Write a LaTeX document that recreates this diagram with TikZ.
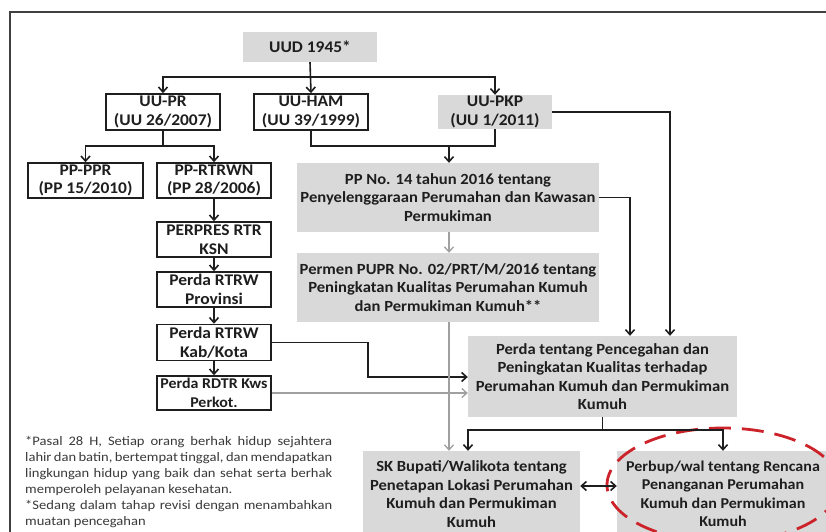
\documentclass[tikz,border=0pt]{standalone}
\usepackage{fontspec}
\setmainfont{Carlito}[FakeStretch=1.07]
\newfontfamily\notefont{Carlito}[FakeStretch=1.12]
\usetikzlibrary{arrows.meta,calc}
\definecolor{boxgray}{HTML}{D9D9D9}
\definecolor{ink}{HTML}{1E1E1E}
\definecolor{thinline}{HTML}{A0A0A0}
\definecolor{redd}{HTML}{CC2229}
\definecolor{notegray}{HTML}{3A3A3A}
\begin{document}
\begin{tikzpicture}[x=1pt,y=-1pt,
  every node/.style={inner sep=0pt, align=center, text=ink,
    font=\bfseries\fontsize{15.5}{18.5}\selectfont},
  small/.style={font=\bfseries\fontsize{16.3}{18.5}\selectfont},
  wbox/.style={draw=ink, line width=1.6pt, fill=white, small},
  gbox/.style={fill=boxgray},
  arr/.style={draw=ink, line width=1.6pt, -{Straight Barb[length=5pt,width=9pt,line width=1.6pt]}},
  ln/.style={draw=ink, line width=1.6pt},
  garr/.style={draw=thinline, line width=1.4pt, -{Straight Barb[length=5pt,width=9pt,line width=1.3pt]}},
  darr/.style={draw=ink, line width=1.6pt, {Straight Barb[length=5pt,width=9pt,line width=1.6pt]}-{Straight Barb[length=5pt,width=9pt,line width=1.6pt]}},
  note/.style={text=notegray, align=justify, font=\notefont\fontsize{13}{16}\selectfont, text width=307pt, anchor=north west}
]
\useasboundingbox (0,0) rectangle (826,531);
\clip (0,0) rectangle (826,531);
\fill[white] (0,0) rectangle (826,531);
% frame
\draw[line width=1.5pt, draw=ink!85] (10,560) -- (10,12) -- (840,12);

% nodes
\node[gbox, small, minimum width=134pt, minimum height=30pt] (uud) at (310,47) {UUD 1945*};
\node[wbox, minimum width=114pt, minimum height=36pt] (uupr) at (163,112) {UU-PR\\(UU 26/2007)};
\node[wbox, minimum width=114pt, minimum height=36pt] (uuham) at (311,112) {UU-HAM\\(UU 39/1999)};
\node[gbox, small, minimum width=114pt, minimum height=34pt] (uupkp) at (495,112) {UU-PKP\\(UU 1/2011)};
\node[wbox, minimum width=115pt, minimum height=35pt] (pppr) at (85.5,180.5) {PP-PPR\\(PP 15/2010)};
\node[wbox, minimum width=114pt, minimum height=35pt] (pprtrwn) at (214,180.5) {PP-RTRWN\\(PP 28/2006)};
\node[wbox, minimum width=114pt, minimum height=35pt] (perpres) at (214,239.5) {PERPRES RTR\\KSN};
\node[wbox, minimum width=114pt, minimum height=35pt] (rtrwprov) at (214,289.5) {Perda RTRW\\Provinsi};
\node[wbox, minimum width=114pt, minimum height=36pt] (rtrwkab) at (214,342.5) {Perda RTRW\\Kab/Kota};
\node[wbox, minimum width=114pt, minimum height=34pt, font=\bfseries\fontsize{14.9}{18.5}\selectfont] (rdtr) at (214,393) {Perda RDTR Kws\\Perkot.};
\node[gbox, minimum width=302pt, minimum height=69pt] (pp14) at (448,197.5) {PP No. 14 tahun 2016 tentang\\Penyelenggaraan Perumahan dan Kawasan\\Permukiman};
\node[gbox, minimum width=302pt, minimum height=69pt] (permen) at (448,287.5) {Permen PUPR No. 02/PRT/M/2016 tentang\\Peningkatan Kualitas Perumahan Kumuh\\dan Permukiman Kumuh**};
\node[gbox, minimum width=269pt, minimum height=81pt] (perda) at (602.5,376.5) {Perda tentang Pencegahan dan\\Peningkatan Kualitas terhadap\\Perumahan Kumuh dan Permukiman\\Kumuh};
\node[gbox, minimum width=217pt, minimum height=86pt] (sk) at (471.5,494) {SK Bupati/Walikota tentang\\Penetapan Lokasi Perumahan\\Kumuh dan Permukiman\\Kumuh};
\node[gbox, minimum width=212pt, minimum height=86pt, font=\bfseries\fontsize{15}{18.5}\selectfont] (perbup) at (723,494) {Perbup/wal tentang Rencana\\Penanganan Perumahan\\Kumuh dan Permukiman\\Kumuh};

% red dashed ellipse
\draw[redd, line width=2.8pt, dash pattern=on 22pt off 11pt] (723,485) ellipse [x radius=116pt, y radius=57pt];

% note
\node[note] (fn) at (25,436) {*Pasal 28 H, Setiap orang berhak hidup sejahtera\linebreak
lahir dan batin, bertempat tinggal, dan mendapatkan\linebreak
lingkungan hidup yang baik dan sehat serta berhak\linebreak
memperoleh pelayanan kesehatan.\\
**Sedang dalam tahap revisi dengan menambahkan\linebreak
muatan pencegahan};

% connectors
\coordinate (j1) at (310,77);
\draw[arr] (uud.south) -- (uuham.north);
\draw[arr] (j1) -| (uupr.north);
\draw[arr] (j1) -| (uupkp.north);

\coordinate (j2) at (163,146);
\draw[ln] (uupr.south) -- (j2);
\draw[arr] (j2) -| (pppr.north);
\draw[arr] (j2) -| (pprtrwn.north);

\coordinate (j3) at (449,146);
\draw[ln] (uuham.south) |- (uupkp.south |- j3) -- (uupkp.south);
\draw[arr] (j3) -- (j3 |- pp14.north);

\draw[arr] (uupkp.east) -| ([xshift=67.5pt]perda.north);
\draw[arr] (pp14.east) -| ([xshift=27.5pt]perda.north);

\draw[arr] (pprtrwn) -- (perpres);
\draw[arr] (perpres) -- (rtrwprov);
\draw[arr] (rtrwprov) -- (rtrwkab);
\draw[arr] (rtrwkab) -- (rdtr);

\coordinate (j4) at (368,377);
\draw[arr] (rtrwkab.east) -| (j4) -- (j4 -| perda.west);
\draw[garr] (rdtr.east) -- (rdtr.east -| perda.west);

\draw[garr] (pp14.south -| j3) -- (permen.north -| j3);
\draw[garr] (permen.south -| j3) -- (sk.north -| j3);

\coordinate (j5) at (602.5,430);
\draw[ln] (perda.south) -- (j5);
\draw[arr] (j5) -| ([xshift=-3.5pt]sk.north);
\draw[arr] (j5) -| (perbup.north);

\draw[darr] ([yshift=8pt]sk.east) -- ([yshift=8pt]perbup.west);
\end{tikzpicture}
\end{document}
